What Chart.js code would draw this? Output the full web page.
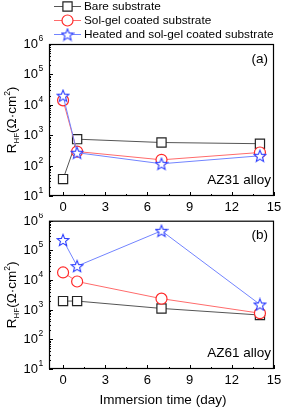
<!DOCTYPE html>
<html>
<head>
<meta charset="utf-8">
<script src="https://cdn.jsdelivr.net/npm/chart.js@4/dist/chart.umd.min.js"></script>
<style>
  html, body { margin: 0; padding: 0; background: #fff; }
  #wrap { position: relative; width: 283px; height: 409px; }
  canvas { position: absolute; left: 0; }
</style>
</head>
<body>
<div id="wrap">
  <canvas id="chart-az31" width="283" height="213" style="top:0"></canvas>
  <canvas id="chart-az61" width="283" height="196" style="top:213px"></canvas>
</div>
<script>
// immersion time (day)
const days = [0, 1, 7, 14];

// R_HF values (ohm cm2), AZ31 alloy
const az31Bare   = [36, 740, 575, 525];
const az31SolGel = [14000, 290, 155, 270];
const az31Heated = [20000, 265, 115, 210];

// R_HF values, AZ61 alloy
const az61Bare   = [1950, 1950, 1100, 660];
const az61SolGel = [18000, 8900, 2350, 760];
const az61Heated = [224000, 29500, 457000, 1500];

const seriesNames = ['Bare substrate', 'Sol-gel coated substrate', 'Heated and sol-gel coated substrate'];
const xTicks = [0, 3, 6, 9, 12, 15];
const xMinor = [1.5, 4.5, 7.5, 10.5, 13.5];
const yExponents = [1, 2, 3, 4, 5, 6];

const FONT = '"Liberation Sans", Arial, sans-serif';
const lineColors = ['#555555', '#ff6b6b', '#7284ff'];
const markColors = ['#222222', '#ff2a2a', '#2a3cff'];

function makeStar(color) {
  const c = document.createElement('canvas');
  c.width = 14; c.height = 14;
  const g = c.getContext('2d');
  g.beginPath();
  for (let i = 0; i < 10; i++) {
    const r = i % 2 === 0 ? 6.2 : 2.7;
    const a = -Math.PI / 2 + i * Math.PI / 5;
    const px = 7 + r * Math.cos(a), py = 7.6 + r * Math.sin(a);
    if (i === 0) g.moveTo(px, py); else g.lineTo(px, py);
  }
  g.closePath();
  g.fillStyle = '#fff'; g.fill();
  g.strokeStyle = color; g.lineWidth = 1.1; g.stroke();
  return c;
}
const starImg = makeStar(markColors[2]);
const markers = [
  { style: 'rect', radius: 6.5 },
  { style: 'circle', radius: 5.5 },
  { style: starImg, radius: 6 }
];

function series(i, values) {
  return {
    label: seriesNames[i],
    data: days.map((d, k) => ({ x: d, y: values[k] })),
    borderColor: lineColors[i],
    borderWidth: 1,
    pointStyle: markers[i].style,
    pointRadius: markers[i].radius,
    pointBorderColor: markColors[i],
    pointBackgroundColor: '#fff',
    pointBorderWidth: 1.2,
    order: 2 - i
  };
}

function line(ctx, x1, y1, x2, y2) {
  ctx.beginPath(); ctx.moveTo(x1, y1); ctx.lineTo(x2, y2); ctx.stroke();
}

// text made of pieces: [text, size, shift]
function drawRich(ctx, parts, x, y) {
  let w = 0;
  parts.forEach(p => { ctx.font = p[1] + 'px ' + FONT; w += ctx.measureText(p[0]).width; });
  let cx = x - w / 2;
  ctx.textAlign = 'left';
  ctx.textBaseline = 'alphabetic';
  parts.forEach(p => {
    ctx.font = p[1] + 'px ' + FONT;
    ctx.fillText(p[0], cx, y + p[2]);
    cx += ctx.measureText(p[0]).width;
  });
}

const decor = {
  id: 'decor',
  afterDraw(chart, args, opts) {
    const ctx = chart.ctx, a = chart.chartArea;
    const xs = chart.scales.x, ys = chart.scales.y;
    ctx.save();
    ctx.strokeStyle = '#000';
    ctx.fillStyle = '#000';
    ctx.lineWidth = 1.2;
    ctx.strokeRect(a.left + 0.5, a.top + 0.5, a.right - a.left - 1, a.bottom - a.top - 1);

    ctx.lineWidth = 1;
    // x ticks
    xTicks.forEach(v => {
      const px = Math.round(xs.getPixelForValue(v)) + 0.5;
      line(ctx, px, a.bottom, px, a.bottom - 4);
    });
    xMinor.forEach(v => {
      const px = Math.round(xs.getPixelForValue(v)) + 0.5;
      line(ctx, px, a.bottom, px, a.bottom - 2);
    });
    ctx.font = '13px ' + FONT;
    ctx.textAlign = 'center';
    ctx.textBaseline = 'middle';
    xTicks.forEach(v => {
      ctx.fillText(String(v), xs.getPixelForValue(v), a.bottom + 11);
    });

    // y ticks (log)
    yExponents.forEach(e => {
      const py = Math.round(ys.getPixelForValue(Math.pow(10, e))) + 0.5;
      line(ctx, a.left, py, a.left + 4, py);
      if (e < 6) {
        for (let m = 2; m <= 9; m++) {
          const pm = Math.round(ys.getPixelForValue(m * Math.pow(10, e))) + 0.5;
          line(ctx, a.left, pm, a.left + 2, pm);
        }
      }
      ctx.font = '13px ' + FONT;
      ctx.textAlign = 'right';
      ctx.textBaseline = 'middle';
      ctx.fillText('10', 38, py);
      ctx.font = '8.5px ' + FONT;
      ctx.textAlign = 'left';
      ctx.fillText(String(e), 38.5, py - 6);
    });

    // y title, rotated
    ctx.save();
    ctx.translate(16, (a.top + a.bottom) / 2);
    ctx.rotate(-Math.PI / 2);
    drawRich(ctx, [['R', 13.5, 0], ['HF', 8, 3], ['(\u03A9\u00B7cm', 13.5, 0], ['2', 8.5, -6], [')', 13.5, 0]], 0, 0);
    ctx.restore();

    // panel texts
    ctx.font = '13.5px ' + FONT;
    ctx.textAlign = 'right';
    ctx.textBaseline = 'middle';
    ctx.fillText(opts.panel, 268, a.top + 15);
    ctx.fillText(opts.alloy, 271, a.bottom - 16);

    if (opts.legend) {
      const rows = [6, 20, 34];
      rows.forEach((ry, i) => {
        ctx.strokeStyle = lineColors[i];
        ctx.lineWidth = 1;
        line(ctx, 54, ry + 0.5, 81, ry + 0.5);
        ctx.fillStyle = '#fff';
        ctx.strokeStyle = markColors[i];
        ctx.lineWidth = 1.2;
        Chart.helpers.drawPoint(ctx, {
          pointStyle: markers[i].style, radius: markers[i].radius,
          borderWidth: 1.2
        }, 67.5, ry + 0.5);
      });
      ctx.fillStyle = '#000';
      ctx.font = '11.8px ' + FONT;
      ctx.textAlign = 'left';
      ctx.textBaseline = 'middle';
      rows.forEach((ry, i) => ctx.fillText(seriesNames[i], 84, ry + 1));
    }

    if (opts.xTitle) {
      ctx.fillStyle = '#000';
      ctx.font = '13.5px ' + FONT;
      ctx.textAlign = 'center';
      ctx.textBaseline = 'middle';
      ctx.fillText(opts.xTitle, 163, a.bottom + 31);
    }
    ctx.restore();
  }
};

function makeChart(id, data, pad, opts) {
  return new Chart(document.getElementById(id), {
    type: 'line',
    data: { datasets: [series(0, data[0]), series(1, data[1]), series(2, data[2])] },
    options: {
      responsive: false,
      devicePixelRatio: 1,
      animation: false,
      events: [],
      layout: { padding: pad },
      plugins: { legend: { display: false }, tooltip: { enabled: false }, decor: opts },
      scales: {
        x: {
          type: 'linear', min: -1, max: 15,
          grid: { display: false }, border: { display: false }, ticks: { display: false },
          afterFit: s => { s.height = 0; }
        },
        y: {
          type: 'logarithmic', min: 10, max: 1e6,
          grid: { display: false }, border: { display: false }, ticks: { display: false },
          afterFit: s => { s.width = 49; }
        }
      }
    },
    plugins: [decor]
  });
}

// plot (a): frame from y 44 to 196, x 49 to 274
makeChart('chart-az31', [az31Bare, az31SolGel, az31Heated],
  { top: 44, right: 9, left: 0, bottom: 17 },
  { panel: '(a)', alloy: 'AZ31 alloy', legend: true });

// plot (b): frame from y 218 to 369
makeChart('chart-az61', [az61Bare, az61SolGel, az61Heated],
  { top: 5, right: 9, left: 0, bottom: 40 },
  { panel: '(b)', alloy: 'AZ61 alloy', legend: false, xTitle: 'Immersion time (day)' });
</script>
</body>
</html>
